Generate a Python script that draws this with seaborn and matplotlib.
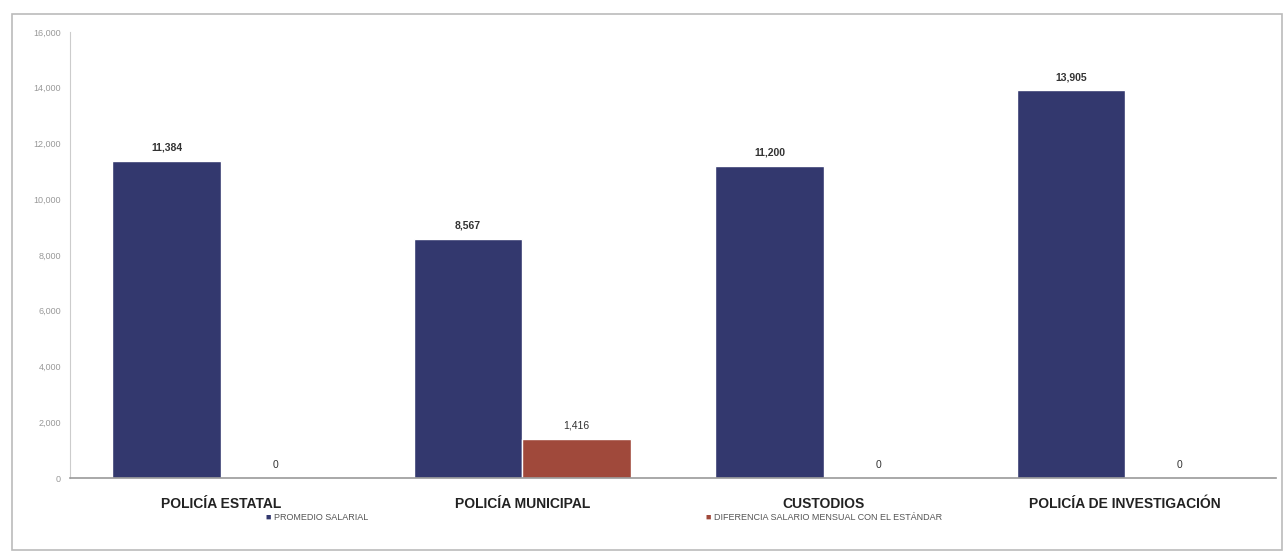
import numpy as np
import pandas as pd
import matplotlib.pyplot as plt
import seaborn as sns
from matplotlib.patches import Rectangle

categorias = ['POLICÍA ESTATAL', 'POLICÍA MUNICIPAL', 'CUSTODIOS', 'POLICÍA DE INVESTIGACIÓN']
promedio = [11384, 8567, 11200, 13905]
diferencia = [0, 1416, 0, 0]
series = ['PROMEDIO SALARIAL', 'DIFERENCIA SALARIO MENSUAL CON EL ESTÁNDAR']
yticks = [0, 2000, 4000, 6000, 8000, 10000, 12000, 14000, 16000]

df = pd.DataFrame({
    'cat': categorias * 2,
    'serie': [series[0]] * 4 + [series[1]] * 4,
    'valor': promedio + diferencia,
})

sns.set_style('white')
plt.rcParams['font.family'] = ['Liberation Sans', 'DejaVu Sans']

fig = plt.figure(figsize=(12.85, 5.56), dpi=100)
ax = fig.add_axes([70 / 1285, 1 - 478 / 556, 1206 / 1285, 446 / 556])

colores = {series[0]: '#33386e', series[1]: '#a0493b'}
sns.barplot(data=df, x='cat', y='valor', hue='serie', palette=colores,
            width=0.72, gap=0, saturation=1, ax=ax, legend=False)

# etiquetas de valor
for i, cont in enumerate(ax.containers):
    vals = promedio if i == 0 else diferencia
    labels = [f'{v:,}' for v in vals]
    ax.bar_label(cont, labels=labels, padding=6, fontsize=7.5,
                 fontweight='bold' if i == 0 else 'normal', color='#333333')

ax.set_ylim(0, 16000)
ax.set_yticks(yticks)
ax.set_yticklabels([f'{t:,}' for t in yticks], fontsize=6.5, color='#999999')
ax.set_xlabel('')
ax.set_ylabel('')
ax.tick_params(axis='x', length=0, pad=14)
ax.tick_params(axis='y', length=3, color='#bbbbbb')
for lbl in ax.get_xticklabels():
    lbl.set_fontweight('bold')
    lbl.set_fontsize(10)
    lbl.set_color('#222222')

for s in ['top', 'right']:
    ax.spines[s].set_visible(False)
ax.spines['left'].set_color('#cccccc')
ax.spines['bottom'].set_color('#999999')
ax.spines['bottom'].set_linewidth(1.2)

# leyenda
for x0, nombre in [(265, series[0]), (705, series[1])]:
    fig.text(x0 / 1285, 1 - 517 / 556, '■', fontsize=6.5, color=colores[nombre], va='center')
    fig.text((x0 + 9) / 1285, 1 - 517 / 556, nombre, fontsize=6.5, color='#555555', va='center')

# marco del grafico
fig.patches.append(Rectangle((12 / 1285, 0.01), 1 - 12 / 1285 - 0.002, 1 - 14 / 556 - 0.01,
                             transform=fig.transFigure, fill=False, edgecolor='#bbbbbb', lw=1.2))

fig.savefig('out.png', dpi=100)
